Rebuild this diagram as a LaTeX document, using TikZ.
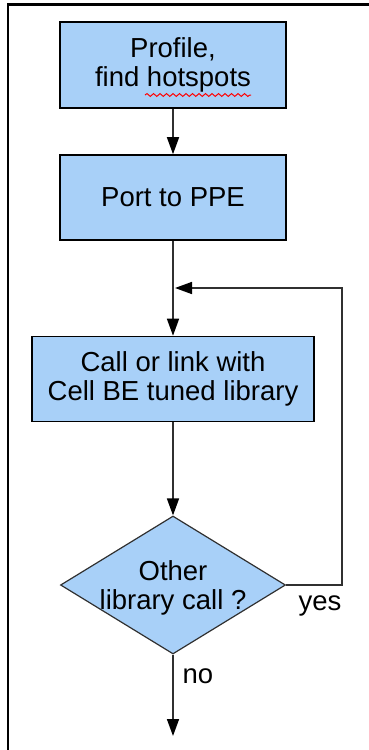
\documentclass[tikz,border=0pt]{standalone}
\usepackage{fontspec}
\setmainfont{Liberation Sans}
\usetikzlibrary{shapes.geometric,arrows.meta,decorations.pathmorphing}
\definecolor{boxfill}{HTML}{A8D0F8}
\definecolor{lineclr}{HTML}{303030}
\begin{document}
\begin{tikzpicture}[x=1pt,y=-1pt,
  every node/.style={font=\fontsize{27.5}{29}\selectfont},
  stepbox/.style={draw=black,line width=1.6pt,fill=boxfill,rectangle,
    align=center,inner sep=0pt},
  decision/.style={draw=lineclr,line width=1.2pt,fill=boxfill,diamond,
    inner sep=0pt,minimum width=225pt,minimum height=138pt},
  flow/.style={draw=lineclr,line width=1.6pt,
    -{Triangle[length=17pt,width=12pt,color=black]}},
  plainline/.style={draw=lineclr,line width=1.6pt}]
\useasboundingbox (0,0) rectangle (369,750);

% frame along the top and left edges
\draw[line width=2.2pt,black] (369,4.5) -- (8,4.5) -- (8,750);

% process steps
\node[stepbox,minimum width=226pt,minimum height=86pt] (b1) at (173,65)
  {Profile,\\find hotspots};
\node[stepbox,minimum width=226pt,minimum height=85pt] (b2) at (173,197.5)
  {Port to PPE};
\node[stepbox,minimum width=282pt,minimum height=85pt] (b3) at (173,379)
  {Call or link with\\Cell BE tuned library};

% decision
\node[decision] (dec) at (173,585) {};
\node[align=center,inner sep=0pt] (dectext) at (173,588)
  {Other\\library call ?};

% spell-check underline under "hotspots"
\coordinate (sqa) at (145,95);
\coordinate (sqb) at (251,95);
\draw[red,line width=1pt,decorate,
  decoration={snake,amplitude=1.4pt,segment length=6.5pt}] (sqa) -- (sqb);

% connectors
\coordinate (join) at (175,288);
\coordinate (loopc) at (342,288);
\coordinate (outend) at (173,736);
\draw[flow] (b1.south) -- (b2.north);
\draw[flow] (b2.south) -- (b3.north);
\draw[flow] (b3.south) -- (dec.north);
\draw[flow] (dec.east) -| (loopc) -- (join);
\draw[flow] (dec.south) -- (outend);

% branch labels
\node[inner sep=0pt] (yes) at (320,606) {yes};
\node[inner sep=0pt] (no) at (198,676) {no};
\end{tikzpicture}
\end{document}
